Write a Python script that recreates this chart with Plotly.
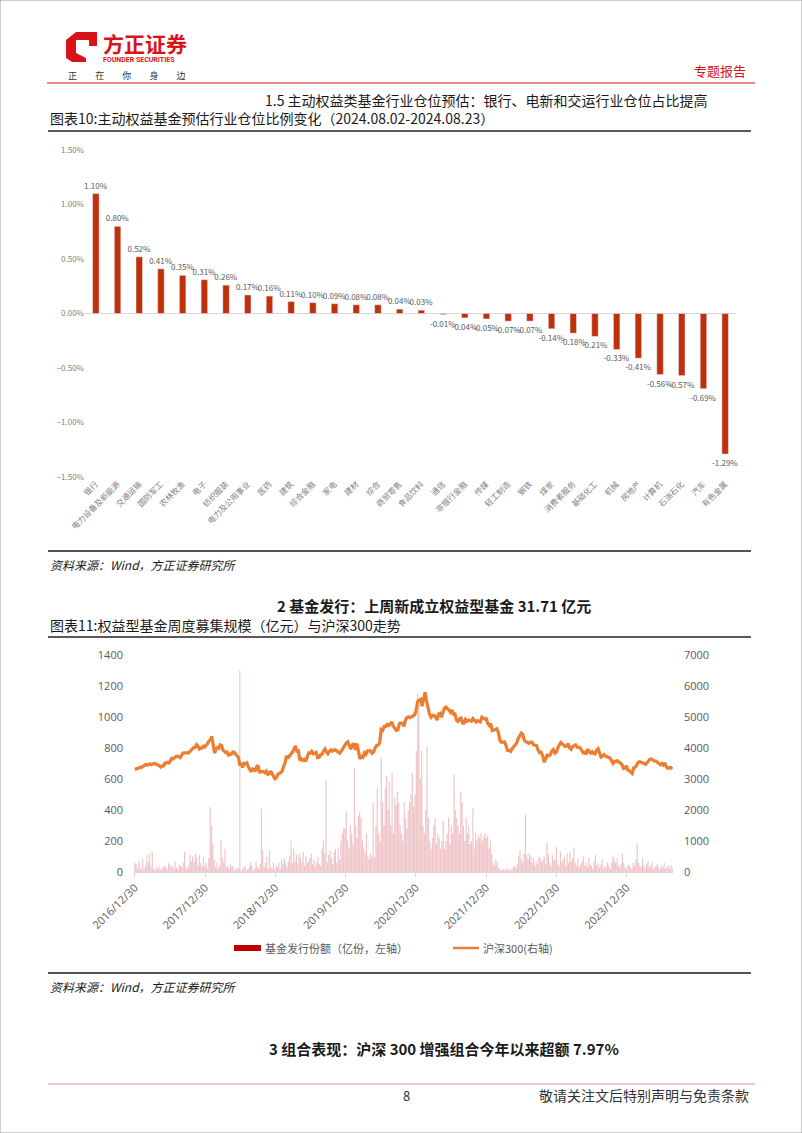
import pandas as pd
import plotly.graph_objects as go

W, H = 802, 1133
FONT = "Noto Sans CJK SC"
RED = "#C0300A"
ORANGE = "#ED7D31"
GRAY = "#595959"

# ---- chart 1: industry position change -------------------------------------
industries = [
    "银行", "电力设备及新能源", "交通运输", "国防军工", "农林牧渔", "电子", "纺织服装",
    "电力及公用事业", "医药", "建筑", "综合金融", "家电", "建材", "综合", "商贸零售",
    "食品饮料", "通信", "非银行金融", "传媒", "轻工制造", "钢铁", "煤炭", "消费者服务",
    "基础化工", "机械", "房地产", "计算机", "石油石化", "汽车", "有色金属",
]
position_change = [
    1.10, 0.80, 0.52, 0.41, 0.35, 0.31, 0.26, 0.17, 0.16, 0.11, 0.10, 0.09, 0.08, 0.08,
    0.04, 0.03, -0.01, -0.04, -0.05, -0.07, -0.07, -0.14, -0.18, -0.21, -0.33, -0.41,
    -0.56, -0.57, -0.69, -1.29,
]

# ---- chart 2: weekly equity fund issuance (亿份) --------------------------------
issuance_2017 = [60, 50, 20, 70, 30, 10, 80, 20, 40, 110, 60, 120, 30, 130, 20, 10, 30, 20, 40, 10,
                 20, 30, 40, 30, 20, 60, 50, 30, 40, 20, 70, 30, 20, 50, 40, 30, 60, 130, 30, 20,
                 40, 110, 70, 100, 60, 120, 90, 40, 110, 60, 30, 100]
issuance_2018 = [40, 60, 20, 90, 420, 300, 180, 80, 30, 60, 20, 40, 210, 90, 60, 150, 30, 40, 20, 50,
                 30, 40, 10, 20, 30, 20, 1300, 10, 20, 30, 40, 10, 20, 30, 60, 40, 10, 20, 70, 30,
                 20, 50, 410, 140, 30, 60, 100, 20, 140, 30, 20, 60]
issuance_2019 = [20, 40, 30, 60, 20, 80, 50, 90, 60, 30, 70, 100, 200, 60, 150, 70, 110, 50, 120, 90,
                 60, 130, 40, 100, 60, 70, 90, 120, 50, 80, 30, 60, 100, 50, 40, 150, 200, 120, 590, 60,
                 110, 140, 90, 50, 130, 150, 60, 150, 80, 200, 250, 280]
issuance_2020 = [280, 390, 200, 150, 300, 250, 180, 670, 300, 220, 360, 390, 350, 200, 150, 120, 250, 100, 80, 120,
                 100, 450, 90, 300, 540, 250, 200, 740, 450, 300, 540, 620, 400, 580, 300, 640, 250, 480, 430, 520,
                 450, 300, 250, 200, 450, 350, 280, 400, 450, 500, 640, 420]
issuance_2021 = [500, 780, 1150, 1080, 600, 780, 300, 250, 400, 810, 350, 200, 150, 220, 300, 350, 180, 250, 220, 150,
                 200, 330, 150, 200, 250, 350, 180, 300, 250, 630, 400, 350, 300, 250, 520, 450, 300, 200, 350, 250,
                 300, 180, 200, 410, 150, 250, 200, 240, 220, 250, 200, 230]
issuance_2022 = [250, 220, 240, 150, 200, 120, 60, 40, 80, 60, 30, 20, 10, 15, 20, 10, 25, 15, 20, 10,
                 20, 30, 40, 25, 50, 100, 140, 80, 60, 120, 370, 110, 80, 120, 100, 60, 90, 40, 70, 50,
                 100, 90, 60, 80, 100, 50, 190, 120, 60, 40, 110, 80]
issuance_2023 = [80, 160, 50, 40, 130, 60, 80, 100, 40, 120, 60, 130, 70, 90, 160, 60, 40, 80, 30, 50,
                 70, 100, 40, 60, 30, 90, 50, 40, 20, 70, 110, 40, 60, 30, 50, 80, 20, 40, 30, 60,
                 40, 20, 60, 100, 80, 60, 90, 40, 30, 50, 120, 60]
issuance_2024 = [30, 20, 40, 50, 30, 20, 60, 40, 80, 180, 60, 40, 30, 90, 40, 20, 50, 70, 30, 40,
                 60, 20, 30, 40, 50, 30, 20, 40, 30, 60, 20, 30, 40, 20, 45, 25, 31.71]

# ---- chart 2: CSI 300 weekly close -------------------------------------------
csi300_2017 = [3310, 3320, 3319, 3354, 3387, 3373, 3408, 3451, 3473, 3448, 3468, 3488, 3463, 3483, 3504, 3489,
               3478, 3440, 3428, 3385, 3426, 3424, 3515, 3512, 3540, 3518, 3587, 3666, 3648, 3690, 3733, 3737,
               3720, 3691, 3752, 3833, 3841, 3829, 3842, 3838, 3884, 3918, 3998, 4021, 4022, 4108, 4060, 3969,
               4006, 4000, 4060, 4030]
csi300_2018 = [4090, 4138, 4225, 4258, 4381, 4150, 3835, 3965, 4015, 3990, 4100, 4080, 3930, 3900, 3850, 3870,
               3770, 3800, 3800, 3870, 3865, 3800, 3730, 3700, 3440, 3510, 3370, 3500, 3495, 3520, 3400, 3300,
               3230, 3330, 3320, 3240, 3400, 3440, 3200, 3240, 3240, 3240, 3200, 3250, 3150, 3170, 3260, 3180,
               3080, 3010]
csi300_2019 = [3035, 3150, 3170, 3200, 3250, 3400, 3520, 3750, 3660, 3745, 3800, 3870, 3960, 4070, 3900, 3910,
               3600, 3650, 3600, 3630, 3570, 3690, 3840, 3830, 3890, 3810, 3850, 3860, 3690, 3700, 3780, 3800,
               3900, 3970, 3880, 3815, 3890, 3940, 3900, 3940, 3940, 3900, 3850, 3830, 3900, 3980, 4020, 4096]
csi300_2020 = [4160, 4200, 4100, 3960, 4100, 4150, 3940, 4140, 3900, 3650, 3720, 3700, 3850, 3800, 3910, 3900,
               3910, 3830, 3870, 4000, 4080, 4100, 4165, 4600, 4570, 4700, 4700, 4760, 4730, 4780, 4840, 4700,
               4650, 4570, 4590, 4790, 4800, 4800, 4700, 4900, 4980, 5000, 4980, 5020, 5050, 5070, 5210]
csi300_2021 = [5500, 5540, 5570, 5350, 5540, 5800, 5500, 5250, 5080, 4990, 5050, 5050, 5000, 4900, 5100, 5120,
               4990, 5150, 5290, 5320, 5280, 5220, 5150, 5220, 5090, 5100, 4900, 4860, 4940, 4970, 4800, 4800,
               4920, 4860, 4900, 4870, 4860, 4950, 4890, 4840, 4880, 4870, 4840, 4990, 4970, 4930, 4940]
csi300_2022 = [4800, 4730, 4790, 4560, 4590, 4600, 4620, 4500, 4250, 4180, 4200, 4200, 4080, 3920, 3920, 3890,
               3980, 4050, 4100, 4160, 4310, 4380, 4480, 4430, 4250, 4200, 4170, 4150, 4190, 4190, 4100, 4100,
               4080, 3930, 3850, 3860, 3750, 3540, 3670, 3770, 3750, 3780, 3900, 3950, 3830, 3870]
csi300_2023 = [4000, 4070, 4180, 4140, 4100, 4050, 4060, 4140, 4000, 3960, 4050, 4090, 4100, 4030, 4030, 4000,
               3940, 3850, 3860, 3800, 3960, 3880, 3840, 3880, 3820, 3810, 3930, 3980, 3850, 3710, 3740, 3790,
               3740, 3710, 3690, 3680, 3590, 3500, 3570, 3560, 3590, 3560, 3500, 3470, 3340, 3350, 3431]
csi300_2024 = [3290, 3270, 3210, 3180, 3360, 3380, 3450, 3540, 3560, 3540, 3540, 3500, 3470, 3540, 3600, 3640,
               3650, 3610, 3580, 3580, 3530, 3500, 3460, 3500, 3450, 3520, 3400, 3350, 3360, 3370, 3320]

year_ticks = ["2016-12-30", "2017-12-30", "2018-12-30", "2019-12-30",
              "2020-12-30", "2021-12-30", "2022-12-30", "2023-12-30"]
year_tick_text = [d.replace("-", "/") for d in year_ticks]


def px(x):
    return x / W


def py(y):
    return 1 - y / H


issuance = (issuance_2017 + issuance_2018 + issuance_2019 + issuance_2020
            + issuance_2021 + issuance_2022 + issuance_2023 + issuance_2024)
issue_dates = pd.date_range("2016-12-30", periods=len(issuance), freq="7D")

csi_years = [
    ("2016-12-30", "2017-12-29", csi300_2017),
    ("2018-01-05", "2018-12-28", csi300_2018),
    ("2019-01-04", "2019-12-31", csi300_2019),
    ("2020-01-03", "2020-12-31", csi300_2020),
    ("2021-01-08", "2021-12-31", csi300_2021),
    ("2022-01-07", "2022-12-30", csi300_2022),
    ("2023-01-06", "2023-12-29", csi300_2023),
    ("2024-01-05", "2024-08-23", csi300_2024),
]
csi_dates, csi_values = [], []
for start, end, values in csi_years:
    csi_dates.extend(pd.date_range(start, end, periods=len(values)))
    csi_values.extend(values)

fig = go.Figure()
fig.add_trace(
    go.Bar(
        x=industries,
        y=position_change,
        width=0.3,
        marker={"color": RED},
        text=[f"{v:.2f}%" for v in position_change],
        textposition="outside",
        constraintext="none",
        cliponaxis=False,
        textfont={"size": 8, "color": GRAY, "family": FONT},
        xaxis="x",
        yaxis="y",
        showlegend=False,
    )
)
fig.add_trace(
    go.Bar(
        x=issue_dates,
        y=issuance,
        marker={"color": "rgba(214, 96, 108, 0.38)", "line": {"width": 0}},
        xaxis="x2",
        yaxis="y2",
        showlegend=False,
    )
)
fig.add_trace(
    go.Scatter(
        x=csi_dates,
        y=csi_values,
        mode="lines",
        line={"color": ORANGE, "width": 3.2},
        xaxis="x2",
        yaxis="y3",
        showlegend=False,
    )
)

tick_font = {"size": 8, "color": "#7f7f7f", "family": FONT}
axis_font = {"size": 11, "color": GRAY, "family": "Open Sans"}
fig.update_layout(
    width=W,
    height=H,
    margin={"l": 0, "r": 0, "t": 0, "b": 0, "autoexpand": False},
    paper_bgcolor="white",
    plot_bgcolor="rgba(0,0,0,0)",
    font={"family": FONT, "color": GRAY},
    bargap=0.15,
    xaxis={
        "domain": [px(85), px(736)],
        "anchor": "y",
        "automargin": False,
        "tickangle": -45,
        "tickfont": tick_font,
        "showgrid": False,
        "showline": False,
        "ticks": "",
    },
    yaxis={
        "domain": [py(477), py(150)],
        "anchor": "x",
        "automargin": False,
        "range": [-1.5, 1.5],
        "dtick": 0.5,
        "tickformat": ".2f",
        "ticksuffix": "%",
        "tickfont": tick_font,
        "showgrid": False,
        "zeroline": True,
        "zerolinecolor": "#d9d9d9",
        "zerolinewidth": 1,
    },
    xaxis2={
        "domain": [px(134), px(673)],
        "anchor": "y2",
        "automargin": False,
        "type": "date",
        "range": ["2016-12-26", "2024-08-27"],
        "tickvals": year_ticks,
        "ticktext": year_tick_text,
        "tickangle": -45,
        "tickfont": axis_font,
        "showgrid": False,
        "showline": True,
        "linecolor": "#d9d9d9",
        "ticks": "outside",
        "ticklen": 4,
        "tickcolor": "#d9d9d9",
    },
    yaxis2={
        "domain": [py(872), py(655)],
        "anchor": "x2",
        "automargin": False,
        "range": [0, 1400],
        "dtick": 200,
        "tickfont": axis_font,
        "showgrid": False,
        "zeroline": False,
        "ticklabelstandoff": 10,
    },
    yaxis3={
        "overlaying": "y2",
        "side": "right",
        "anchor": "x2",
        "automargin": False,
        "range": [0, 7000],
        "dtick": 1000,
        "tickfont": axis_font,
        "showgrid": False,
        "zeroline": False,
        "ticklabelstandoff": 10,
    },
)

# ---- page furniture ----------------------------------------------------------
shapes = [
    {"type": "rect", "x0": 0, "x1": 1, "y0": 0, "y1": 1, "line": {"color": "#9a9a9a", "width": 1}},
    # logo
    {"type": "path", "path": f"M {px(66)} {py(40)} L {px(76)} {py(32)} L {px(97)} {py(32)} L {px(97)} {py(46)} "
                             f"L {px(89)} {py(46)} L {px(89)} {py(40)} L {px(76)} {py(40)} L {px(76)} {py(53)} "
                             f"L {px(86)} {py(58)} L {px(86)} {py(62)} L {px(72)} {py(62)} L {px(66)} {py(58)} Z",
     "fillcolor": "#D7141A", "line": {"width": 0}},
    # rules
    {"type": "line", "x0": px(47), "x1": px(755), "y0": py(83), "y1": py(83), "line": {"color": "#D7141A", "width": 1}},
    {"type": "line", "x0": px(48), "x1": px(751), "y0": py(131), "y1": py(131), "line": {"color": "#595959", "width": 2}},
    {"type": "line", "x0": px(48), "x1": px(751), "y0": py(551), "y1": py(551), "line": {"color": "#1a1a1a", "width": 1.5}},
    {"type": "line", "x0": px(48), "x1": px(751), "y0": py(637), "y1": py(637), "line": {"color": "#595959", "width": 2}},
    {"type": "line", "x0": px(48), "x1": px(751), "y0": py(973), "y1": py(973), "line": {"color": "#1a1a1a", "width": 1.5}},
    {"type": "line", "x0": px(48), "x1": px(755), "y0": py(1084), "y1": py(1084), "line": {"color": "#E88A92", "width": 1}},
    # legend keys
    {"type": "rect", "x0": px(234), "x1": px(261), "y0": py(951), "y1": py(945), "fillcolor": "#C00000", "line": {"width": 0}},
    {"type": "line", "x0": px(453), "x1": px(479), "y0": py(948), "y1": py(948), "line": {"color": ORANGE, "width": 2.5}},
]
for s in shapes:
    s["xref"] = "paper"
    s["yref"] = "paper"
fig.update_layout(shapes=shapes)


def note(text, x, y, size, color="#1a1a1a", anchor="left", bold=False, italic=False, family=FONT):
    fig.add_annotation(
        text=f"<b>{text}</b>" if bold else text,
        x=px(x), y=py(y), xref="paper", yref="paper",
        xanchor=anchor, yanchor="middle", showarrow=False,
        font={"size": size, "color": color, "family": family, "style": "italic" if italic else "normal"},
    )


gap = "&nbsp;" * 9
note("方正证券", 101, 43, 21, "#D7141A", bold=True)
note("FOUNDER SECURITIES", 101, 60, 7, "#D7141A", bold=True, family="Roboto")
note(gap.join("正在你身边"), 66, 76, 9, "#333333")
note("专题报告", 748, 70, 13, "#D7141A", anchor="right")
note("1.5 主动权益类基金行业仓位预估：银行、电新和交运行业仓位占比提高", 710, 100, 14, anchor="right")
note("图表10:主动权益基金预估行业仓位比例变化（2024.08.02-2024.08.23）", 48, 118, 14)
note("资料来源：Wind，方正证券研究所", 48, 564, 12, italic=True)
note("2 基金发行：上周新成立权益型基金 31.71 亿元", 434, 605, 15, anchor="center", bold=True)
note("图表11:权益型基金周度募集规模（亿元）与沪深300走势", 48, 625, 14)
note("基金发行份额（亿份，左轴）", 263, 948, 11, GRAY)
note("沪深300(右轴)", 481, 948, 11, GRAY)
note("资料来源：Wind，方正证券研究所", 48, 986, 12, italic=True)
note("3 组合表现：沪深 300 增强组合今年以来超额 7.97%", 444, 1048, 15, anchor="center", bold=True)
note("8", 406, 1095, 13, "#333333", anchor="center")
note("敬请关注文后特别声明与免责条款", 751, 1095, 14, "#333333", anchor="right")

fig.write_html(
    "out.html",
    config={"displayModeBar": False},
    post_script="document.body.style.margin = '0';",
)
